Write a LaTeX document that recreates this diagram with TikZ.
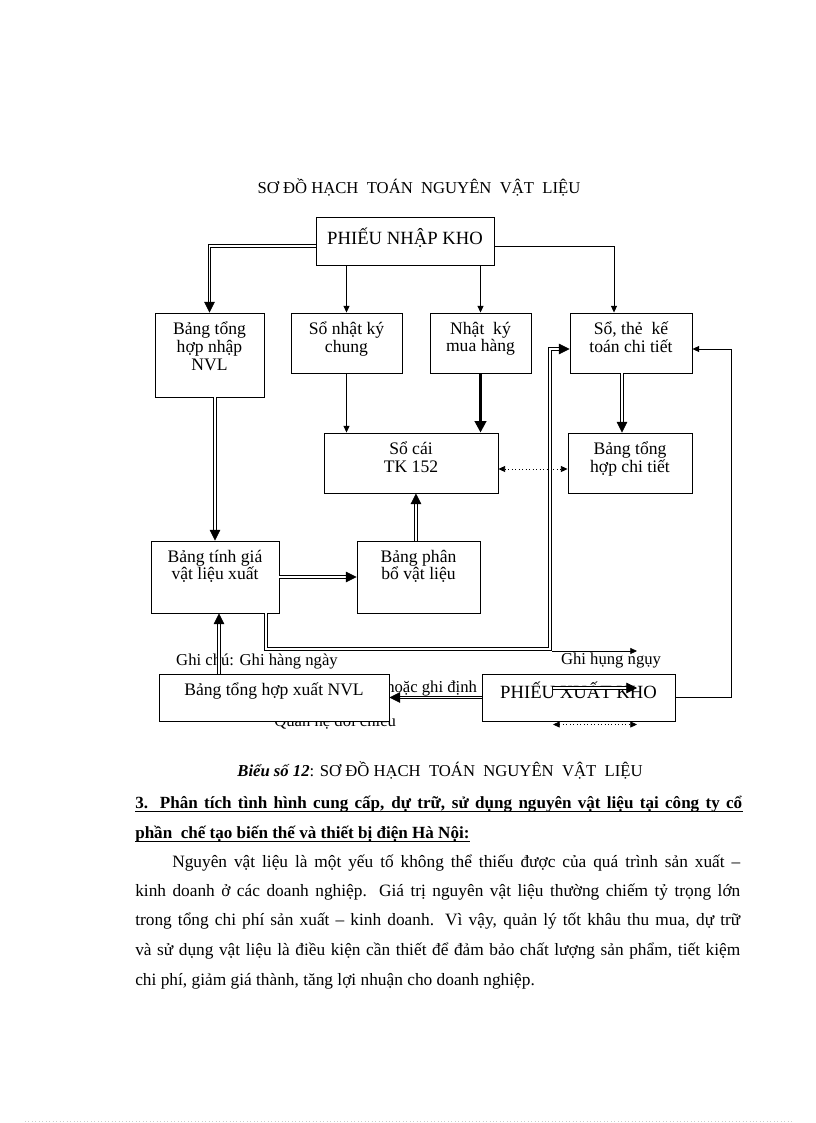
\documentclass[tikz,border=0pt]{standalone}
\usepackage{fontspec}
\setmainfont{Liberation Serif}
\usetikzlibrary{arrows.meta}

\begin{document}
\begin{tikzpicture}[x=0.75pt, y=-0.75pt,
    box/.style={draw, fill=white, line width=0.7pt, inner sep=0pt},
    sz/.style 2 args={minimum width=#1*0.75pt, minimum height=#2*0.75pt},
    chu/.style={anchor=north, align=center, inner sep=0pt, font=\fontsize{13.2}{13.2}\selectfont},
    phieu/.style={inner sep=0pt, font=\fontsize{14}{14}\selectfont},
    ghi/.style={inner sep=0pt, font=\fontsize{12.5}{13}\selectfont},
    van/.style={anchor=base west, inner sep=0pt, font=\fontsize{13}{13}\selectfont},
    don/.style={line width=0.5pt, -{Triangle[length=5pt,width=4.5pt]}},
    kep/.style={double, double distance=1.4pt, line width=0.55pt, -{Triangle[length=8pt,width=8pt]}},
    dam/.style={line width=2pt, -{Triangle[length=8.5pt,width=8.5pt]}},
    cham/.style={dotted, line width=0.6pt, {Triangle[length=5pt,width=4.5pt]}-{Triangle[length=5pt,width=4.5pt]}}]

  \useasboundingbox[fill=white] (0,0) rectangle (816,1123);

  % tieu de
  \node[inner sep=0pt, font=\fontsize{12.5}{13}\selectfont] (tieude) at (419,187)
    {SƠ ĐỒ HẠCH\ \ TOÁN\ \ NGUYÊN\ \ VẬT\ \ LIỆU};

  % chu thich (bi che mot phan)
  \node[ghi] (ghichu) at (257,661) {Ghi chú: Ghi hàng ngày};
  \node[ghi] (ghicuoi) at (611,661) {Ghi hụng ngụy};
  \node[ghi, anchor=base west] (dinhky) at (386,692) {hoặc ghi định};
  \node[ghi, anchor=base west] (doichieu) at (274,726) {Quan hệ đối chiếu};

  % cac o
  \node[box, sz={178}{48}] (nhap) at (405,241) {};
  \node[box, sz={109}{84}] (bthn) at (209.5,355) {};
  \node[box, sz={111}{60}] (nkc) at (346.5,343) {};
  \node[box, sz={101}{60}] (nkmh) at (480.5,343) {};
  \node[box, sz={122}{60}] (stkt) at (631,343) {};
  \node[box, sz={174}{60}] (socai) at (411,463) {};
  \node[box, sz={124}{60}] (bthct) at (630,463) {};
  \node[box, sz={128}{72}] (tinhgia) at (215,577) {};
  \node[box, sz={123}{72}] (phanbo) at (418.5,577) {};
  \node[box, sz={230}{47}] (thxuat) at (274,697.5) {};
  \node[box, sz={193}{47}] (xuat) at (578.5,697.5) {};

  \node[phieu] at (405,238) {PHIẾU NHẬP KHO};
  \node[chu] at ([yshift=-7pt]bthn.north) {Bảng tổng\\hợp nhập\\NVL};
  \node[chu] at ([yshift=-7pt]nkc.north) {Sổ nhật ký\\chung};
  \node[chu] at ([yshift=-7pt]nkmh.north) {Nhật\ \ ký\\mua hàng};
  \node[chu] at ([yshift=-7pt]stkt.north) {Sổ, thẻ\ \ kế\\toán chi tiết};
  \node[chu] at ([yshift=-7pt]socai.north) {Sổ cái\\TK 152};
  \node[chu] at ([yshift=-7pt]bthct.north) {Bảng tổng\\hợp chi tiết};
  \node[chu] at ([yshift=-7pt]tinhgia.north) {Bảng tính giá\\vật liệu xuất};
  \node[chu] at ([yshift=-7pt]phanbo.north) {Bảng phân\\bổ vật liệu};
  \node[chu] at ([yshift=-7pt]thxuat.north) {Bảng tổng hợp xuất NVL};
  \node[phieu] at (578.5,690) {PHIẾU XUẤT KHO};

  \coordinate (goc) at (550,649);
  \coordinate (vong) at (731,349);

  % duong noi
  \draw[kep] ([yshift=-3.75pt]nhap.west) -| (bthn.north);
  \draw[don] (nkc.north |- nhap.south) -- (nkc.north);
  \draw[don] (nkmh.north |- nhap.south) -- (nkmh.north);
  \draw[don] ([yshift=-3.75pt]nhap.east) -| ([xshift=-12.75pt]stkt.north);
  \draw[don] (nkc.south) -- (nkc.south |- socai.north);
  \draw[dam] (nkmh.south) -- (nkmh.south |- socai.north);
  \draw[kep] ([xshift=-6.75pt]stkt.south) -- ([xshift=-6.75pt]stkt.south |- bthct.north);
  \draw[cham] ([yshift=-4.5pt]socai.east) -- ([yshift=-4.5pt]bthct.west);
  \draw[kep] (tinhgia.north |- bthn.south) -- (tinhgia.north);
  \draw[kep] (tinhgia.east) -- (phanbo.west);
  \draw[kep] ([xshift=-1.9pt]phanbo.north) -- ([xshift=-1.9pt]phanbo.north |- socai.south);
  \draw[kep] ([xshift=38.25pt]tinhgia.south) |- (goc) |- ([yshift=-4.5pt]stkt.west);
  \draw[kep] (xuat.west) -- (thxuat.east);
  \draw[kep] ([xshift=-41.25pt]thxuat.north) -- ([xshift=-41.25pt]thxuat.north |- tinhgia.south);
  \draw[don] (xuat.east) -| (vong) -- (vong -| stkt.east);

  % ky hieu
  \coordinate (l1a) at (552,651);
  \coordinate (l1b) at (637,651);
  \coordinate (l2a) at (553,688);
  \coordinate (l2b) at (637,688);
  \coordinate (l3a) at (553,724.5);
  \coordinate (l3b) at (637,724.5);
  \draw[don] (l1a) -- (l1b);
  \draw[kep] (l2a) -- (l2b);
  \draw[cham] (l3a) -- (l3b);

  % phan van ban
  \node[inner sep=0pt, anchor=base, font=\fontsize{12.5}{13}\selectfont] (bieu) at (440,776)
    {\textbf{\textit{Biểu số 12}}: SƠ ĐỒ HẠCH\ \ TOÁN\ \ NGUYÊN\ \ VẬT\ \ LIỆU};
  \node[van, font=\bfseries\fontsize{12.8}{13}\selectfont] (hd1) at (135,808)
    {\makebox[455.25pt][s]{3. Phân tích tình hình cung cấp, dự trữ, sử dụng nguyên vật liệu tại công ty cổ}};
  \node[van, font=\bfseries\fontsize{12.8}{13}\selectfont] (hd2) at (135,838)
    {phần\ \ chế tạo biến thế và thiết bị điện Hà Nội:};
  \draw[line width=0.6pt] ([yshift=-2.2pt]hd1.base west) -- ([yshift=-2.2pt]hd1.base east);
  \draw[line width=0.6pt] ([yshift=-2.2pt]hd2.base west) -- ([yshift=-2.2pt]hd2.base east);

  \node[van] (p1) at (172,867)
    {\makebox[426pt][s]{Nguyên vật liệu là một yếu tố không thể thiếu được của quá trình sản xuất –}};
  \node[van] (p2) at (135,896)
    {\makebox[453.75pt][s]{kinh doanh ở các doanh nghiệp. Giá trị nguyên vật liệu thường chiếm tỷ trọng lớn}};
  \node[van] (p3) at (135,925)
    {\makebox[453.75pt][s]{trong tổng chi phí sản xuất – kinh doanh. Vì vậy, quản lý tốt khâu thu mua, dự trữ}};
  \node[van] (p4) at (135,955)
    {\makebox[453.75pt][s]{và sử dụng vật liệu là điều kiện cần thiết để đảm bảo chất lượng sản phẩm, tiết kiệm}};
  \node[van] (p5) at (135,985)
    {chi phí, giảm giá thành, tăng lợi nhuận cho doanh nghiệp.};

  \draw[gray!40, dotted, line width=0.6pt] (25,1121) -- (792,1121);
\end{tikzpicture}
\end{document}
